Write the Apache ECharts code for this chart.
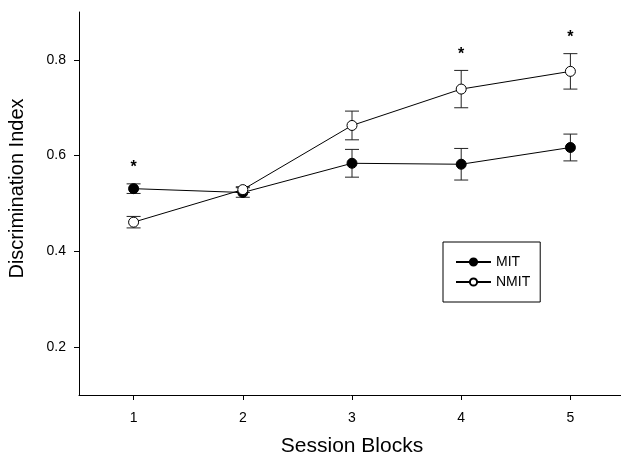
<!DOCTYPE html>
<html>
<head>
<meta charset="utf-8">
<script src="https://cdn.jsdelivr.net/npm/echarts@6/dist/echarts.min.js"></script>
<style>
  html, body { margin: 0; padding: 0; background: #fff; }
  #chart { width: 621px; height: 457px; }
</style>
</head>
<body>
<div id="chart"></div>
<script>
// Session blocks on the x axis
const blocks = [1, 2, 3, 4, 5];
// Mean discrimination index and SEM per group
const mitMean = [0.531, 0.523, 0.584, 0.582, 0.617];
const mitErr = [0.010, 0.010, 0.029, 0.033, 0.028];
const nmitMean = [0.461, 0.529, 0.663, 0.739, 0.776];
const nmitErr = [0.012, 0.006, 0.030, 0.039, 0.037];
// Blocks marked as significantly different
const sigBlocks = [1, 4, 5];
// Axis tick labels
const yTicks = [0.2, 0.4, 0.6, 0.8];
const xTicks = [1, 2, 3, 4, 5];

const FONT = 'Arial, "Liberation Sans", sans-serif';

const pairs = (xs, ys) => xs.map((x, i) => [x, ys[i]]);
const errRows = (xs, m, e) => xs.map((x, i) => [x, m[i] - e[i], m[i] + e[i]]);

function errorBar(params, api) {
  const x = api.value(0);
  const lo = api.coord([x, api.value(1)]);
  const hi = api.coord([x, api.value(2)]);
  const cap = 7;
  const style = { stroke: '#222', lineWidth: 1, fill: null };
  return {
    type: 'group',
    children: [
      { type: 'line', shape: { x1: lo[0], y1: lo[1], x2: hi[0], y2: hi[1] }, style },
      { type: 'line', shape: { x1: lo[0] - cap, y1: lo[1], x2: lo[0] + cap, y2: lo[1] }, style },
      { type: 'line', shape: { x1: hi[0] - cap, y1: hi[1], x2: hi[0] + cap, y2: hi[1] }, style }
    ]
  };
}

// Star placed a little above the taller of the two error bars at each marked block
const sigRows = sigBlocks.map(b => {
  const i = blocks.indexOf(b);
  return [b, Math.max(mitMean[i] + mitErr[i], nmitMean[i] + nmitErr[i])];
});

const chart = echarts.init(document.getElementById('chart'));
chart.setOption({
  animation: false,
  backgroundColor: '#fff',
  grid: { left: 79, top: 12, width: 546, bottom: 62, outerBoundsMode: 'none', containLabel: false },
  xAxis: {
    type: 'value',
    min: 0.5,
    max: 5.5,
    name: 'Session Blocks',
    nameLocation: 'middle',
    nameGap: 41,
    nameTextStyle: { fontFamily: FONT, fontSize: 21, color: '#000' },
    splitLine: { show: false },
    axisLine: { lineStyle: { color: '#000', width: 1 } },
    axisTick: { show: true, length: 5, lineStyle: { color: '#000' }, customValues: xTicks },
    axisLabel: { customValues: xTicks, fontFamily: FONT, fontSize: 14, color: '#000', margin: 16 }
  },
  yAxis: {
    type: 'value',
    min: 0.1,
    max: 0.9,
    name: 'Discrimination Index',
    nameLocation: 'middle',
    nameGap: 52,
    nameTextStyle: { fontFamily: FONT, fontSize: 20, color: '#000', padding: [0, 0, 0, 30] },
    splitLine: { show: false },
    axisLine: { show: true, lineStyle: { color: '#000', width: 1 } },
    axisTick: { show: true, length: 5, lineStyle: { color: '#000' }, customValues: yTicks },
    axisLabel: {
      customValues: yTicks, fontFamily: FONT, fontSize: 14, color: '#000', margin: 13,
      formatter: v => v.toFixed(1)
    }
  },
  legend: {
    orient: 'vertical',
    left: 443,
    top: 242,
    padding: [13, 10, 13, 12],
    itemGap: 6,
    itemWidth: 35,
    itemHeight: 9,
    borderColor: '#000',
    borderWidth: 1,
    borderRadius: 0,
    textStyle: { fontFamily: FONT, fontSize: 14, color: '#000' },
    data: ['MIT', 'NMIT']
  },
  series: [
    {
      type: 'custom', name: 'mitErr', renderItem: errorBar,
      data: errRows(blocks, mitMean, mitErr), z: 1, silent: true
    },
    {
      type: 'custom', name: 'nmitErr', renderItem: errorBar,
      data: errRows(blocks, nmitMean, nmitErr), z: 1, silent: true
    },
    {
      type: 'line', name: 'MIT', data: pairs(blocks, mitMean),
      symbol: 'circle', symbolSize: 10, showSymbol: true,
      lineStyle: { color: '#000', width: 1 },
      itemStyle: { color: '#000', borderColor: '#000', borderWidth: 1 },
      z: 3
    },
    {
      type: 'line', name: 'NMIT', data: pairs(blocks, nmitMean),
      symbol: 'circle', symbolSize: 10, showSymbol: true,
      lineStyle: { color: '#000', width: 1 },
      itemStyle: { color: '#fff', borderColor: '#000', borderWidth: 1 },
      z: 4
    },
    {
      type: 'custom', name: 'sig', silent: true,
      data: sigRows,
      renderItem: (params, api) => {
        const p = api.coord([api.value(0), api.value(1)]);
        return {
          type: 'text',
          style: {
            x: p[0], y: p[1] - 8, text: '*',
            font: 'bold 16px ' + FONT, fill: '#000',
            align: 'center', verticalAlign: 'bottom'
          }
        };
      }
    }
  ]
});
</script>
</body>
</html>
